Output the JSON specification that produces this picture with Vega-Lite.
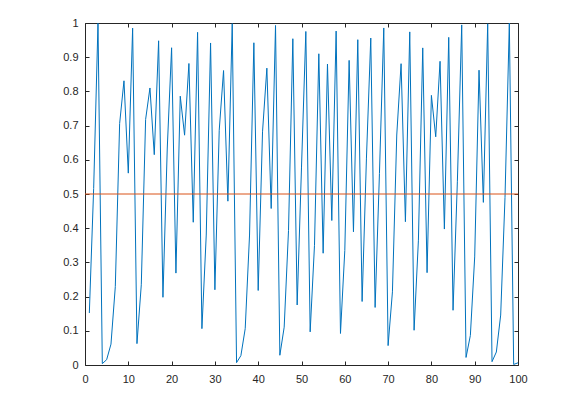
{
  "$schema": "https://vega.github.io/schema/vega-lite/v6.json",
  "width": 433,
  "height": 342,
  "autosize": {"type": "none"},
  "padding": {"left": 85, "top": 23, "right": 69, "bottom": 31},
  "background": "white",
  "config": {
    "view": {"stroke": null},
    "axis": {
      "domainColor": "#262626",
      "tickColor": "#262626",
      "labelColor": "#262626",
      "labelFont": "Liberation Sans",
      "labelFontSize": 11,
      "grid": false,
      "title": null,
      "tickSize": -4,
      "domainWidth": 1,
      "tickWidth": 1
    }
  },
  "data": {
    "values": [
      {"x": 1, "y": 0.152}, {"x": 2, "y": 0.516}, {"x": 3, "y": 0.999}, {"x": 4, "y": 0.004}, {"x": 5, "y": 0.0155},
      {"x": 6, "y": 0.061}, {"x": 7, "y": 0.229}, {"x": 8, "y": 0.706}, {"x": 9, "y": 0.831}, {"x": 10, "y": 0.561},
      {"x": 11, "y": 0.985}, {"x": 12, "y": 0.0625}, {"x": 13, "y": 0.2345}, {"x": 14, "y": 0.718}, {"x": 15, "y": 0.81},
      {"x": 16, "y": 0.615}, {"x": 17, "y": 0.948}, {"x": 18, "y": 0.198}, {"x": 19, "y": 0.6345}, {"x": 20, "y": 0.9276},
      {"x": 21, "y": 0.2687}, {"x": 22, "y": 0.786}, {"x": 23, "y": 0.672}, {"x": 24, "y": 0.8816}, {"x": 25, "y": 0.4174},
      {"x": 26, "y": 0.9727}, {"x": 27, "y": 0.1063}, {"x": 28, "y": 0.38}, {"x": 29, "y": 0.9416}, {"x": 30, "y": 0.22},
      {"x": 31, "y": 0.6864}, {"x": 32, "y": 0.861}, {"x": 33, "y": 0.479}, {"x": 34, "y": 0.9983}, {"x": 35, "y": 0.0069},
      {"x": 36, "y": 0.0273}, {"x": 37, "y": 0.1063}, {"x": 38, "y": 0.38}, {"x": 39, "y": 0.9422}, {"x": 40, "y": 0.2179},
      {"x": 41, "y": 0.6817}, {"x": 42, "y": 0.868}, {"x": 43, "y": 0.4576}, {"x": 44, "y": 0.9928}, {"x": 45, "y": 0.0285},
      {"x": 46, "y": 0.1106}, {"x": 47, "y": 0.393}, {"x": 48, "y": 0.954}, {"x": 49, "y": 0.1755}, {"x": 50, "y": 0.5787},
      {"x": 51, "y": 0.9752}, {"x": 52, "y": 0.0969}, {"x": 53, "y": 0.35}, {"x": 54, "y": 0.91}, {"x": 55, "y": 0.3268},
      {"x": 56, "y": 0.88}, {"x": 57, "y": 0.4225}, {"x": 58, "y": 0.9764}, {"x": 59, "y": 0.0922}, {"x": 60, "y": 0.3347},
      {"x": 61, "y": 0.8907}, {"x": 62, "y": 0.3895}, {"x": 63, "y": 0.9512}, {"x": 64, "y": 0.1857}, {"x": 65, "y": 0.605},
      {"x": 66, "y": 0.956}, {"x": 67, "y": 0.1683}, {"x": 68, "y": 0.56}, {"x": 69, "y": 0.9855}, {"x": 70, "y": 0.0567},
      {"x": 71, "y": 0.2139}, {"x": 72, "y": 0.6725}, {"x": 73, "y": 0.881}, {"x": 74, "y": 0.419}, {"x": 75, "y": 0.974},
      {"x": 76, "y": 0.1016}, {"x": 77, "y": 0.365}, {"x": 78, "y": 0.9272}, {"x": 79, "y": 0.27}, {"x": 80, "y": 0.7884},
      {"x": 81, "y": 0.6673}, {"x": 82, "y": 0.888}, {"x": 83, "y": 0.3975}, {"x": 84, "y": 0.958}, {"x": 85, "y": 0.16},
      {"x": 86, "y": 0.5374}, {"x": 87, "y": 0.9944}, {"x": 88, "y": 0.0221}, {"x": 89, "y": 0.0865}, {"x": 90, "y": 0.316},
      {"x": 91, "y": 0.862}, {"x": 92, "y": 0.4755}, {"x": 93, "y": 0.9976}, {"x": 94, "y": 0.0097}, {"x": 95, "y": 0.038},
      {"x": 96, "y": 0.146}, {"x": 97, "y": 0.49}, {"x": 98, "y": 0.9996}, {"x": 99, "y": 0.0016}, {"x": 100, "y": 0.0064}
    ]
  },
  "resolve": {"axis": {"x": "independent", "y": "independent"}},
  "layer": [
    {
      "mark": {"type": "line", "color": "#0072BD", "strokeWidth": 1},
      "encoding": {
        "x": {"field": "x", "type": "quantitative", "scale": {"domain": [0, 100], "nice": false, "zero": false},
          "axis": {"orient": "bottom", "values": [0, 10, 20, 30, 40, 50, 60, 70, 80, 90, 100], "labelPadding": 12, "labelFlush": false}},
        "y": {"field": "y", "type": "quantitative", "scale": {"domain": [0, 1], "nice": false},
          "axis": {"orient": "left", "values": [0, 0.1, 0.2, 0.3, 0.4, 0.5, 0.6, 0.7, 0.8, 0.9, 1], "format": "~g", "labelPadding": 11, "labelFlush": false}}
      }
    },
    {
      "data": {"values": [{"level": 0.5}]},
      "mark": {"type": "rule", "color": "#D95319", "strokeWidth": 1},
      "encoding": {
        "y": {"field": "level", "type": "quantitative", "axis": null}
      }
    },
    {
      "mark": {"type": "line", "opacity": 0},
      "encoding": {
        "x": {"field": "x", "type": "quantitative",
          "axis": {"orient": "top", "values": [0, 10, 20, 30, 40, 50, 60, 70, 80, 90, 100], "labels": false}},
        "y": {"field": "y", "type": "quantitative",
          "axis": {"orient": "right", "values": [0, 0.1, 0.2, 0.3, 0.4, 0.5, 0.6, 0.7, 0.8, 0.9, 1], "labels": false}}
      }
    }
  ]
}
